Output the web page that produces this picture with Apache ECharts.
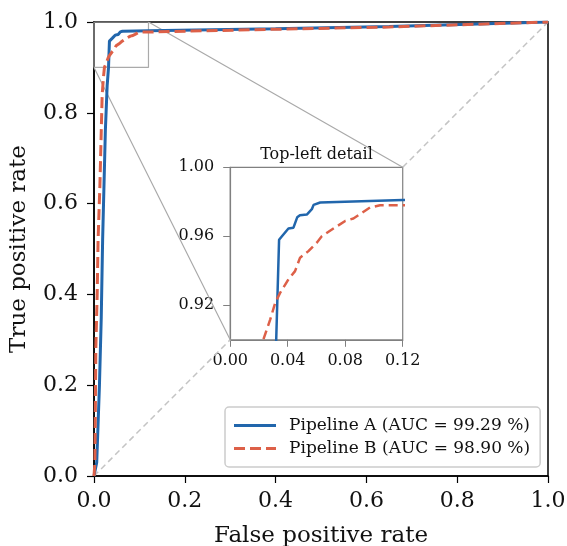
<!doctype html>
<html>
<head>
    <meta charset="utf-8">
    <title>roc-inset</title>
    <script src="https://cdn.jsdelivr.net/npm/echarts@6/dist/echarts.min.js"></script>
    <style>
        html,body{margin:0;padding:0;background:#fff;}
        #ID-ChartRoc{width:567px;height:546px;}
    </style>
</head>
<body>
    <div id="ID-ChartRoc"></div>
    <script>
        /*Data*/
        //Pipeline A
        var fprA=[0,0.006,0.012,0.016,0.019,0.025,0.029,0.032,0.034,0.036,0.0405,0.044,0.0466,0.0485,0.0533,0.0568,0.058,0.0626,0.12,0.40,0.65,1.0];
        var tprA=[0,0.03,0.20,0.35,0.52,0.76,0.86,0.90,0.958,0.960,0.9645,0.965,0.971,0.9722,0.9726,0.9757,0.9782,0.9796,0.981,0.985,0.990,1.0];
        //Pipeline B
        var fprB=[0,0.002,0.003,0.004,0.007,0.009,0.013,0.016,0.018,0.021,0.023,0.0278,0.0313,0.0347,0.0405,0.0451,0.0486,0.0544,0.0602,0.0637,0.0718,0.080,0.0857,0.0903,0.0973,0.1042,0.12,0.40,0.65,1.0];
        var tprB=[0,0.03,0.15,0.28,0.40,0.52,0.64,0.76,0.84,0.88,0.90,0.9117,0.9214,0.9272,0.935,0.9398,0.9476,0.9514,0.9563,0.960,0.9645,0.9689,0.9703,0.9728,0.9767,0.978,0.978,0.984,0.989,1.0];
        var seriesNames=["Pipeline A (AUC = 99.29 %)","Pipeline B (AUC = 98.90 %)"];
        //zoomed region (fpr, tpr)
        var zoomX=[0,0.12];
        var zoomY=[0.90,1.00];
        var insetYTicks=[0.92,0.96,1.00];

        /*Layout*/
        var font="DejaVu Serif";
        var colorA="#2166ac", colorB="#dd6048", grey="#aaaaaa";
        var mainBox={left:94,top:22,size:454};
        var insetLo=0.30, insetHi=0.68;   // inset corners in main axes fraction
        var insetBox={
            left:mainBox.left+insetLo*mainBox.size,
            top:mainBox.top+(1-insetHi)*mainBox.size,
            size:(insetHi-insetLo)*mainBox.size
        };
        //legend handles: solid bar / dashed bar
        var iconSolid="path://M0,0h42v3h-42z";
        var iconDashed="path://M0,0h11v3h-11z M16,0h11v3h-11z M32,0h10v3h-10z";

        function pairs(xs,ys){
            return xs.map(function(x,i){return [x,ys[i]];});
        }

        var chart=echarts.init(document.getElementById("ID-ChartRoc"));
        var option={
            animation:false,
            backgroundColor:"#fff",
            textStyle:{fontFamily:font},
            title:{
                text:"Top-left detail",
                left:insetBox.left+insetBox.size/2,
                textAlign:"center",
                top:insetBox.top-20,
                padding:0,
                textStyle:{fontFamily:font,fontSize:16,fontWeight:"normal",color:"#111"}
            },
            legend:{
                orient:"vertical",
                left:225,
                top:407,
                padding:[10,10,10,9],
                itemWidth:42,
                itemHeight:3,
                itemGap:6,
                backgroundColor:"#fff",
                borderColor:"#cccccc",
                borderWidth:1.5,
                borderRadius:4,
                data:[{name:seriesNames[0],icon:iconSolid},{name:seriesNames[1],icon:iconDashed}],
                textStyle:{fontFamily:font,fontSize:17,color:"#111",padding:[0,0,0,8]}
            },
            grid:[
                {left:mainBox.left,top:mainBox.top,width:mainBox.size,height:mainBox.size,
                    outerBoundsMode:"none",containLabel:false,
                    show:true,borderColor:"#000",borderWidth:1.5,backgroundColor:"transparent"},
                {left:insetBox.left,top:insetBox.top,width:insetBox.size,height:insetBox.size,
                    outerBoundsMode:"none",containLabel:false,
                    show:true,borderColor:"#808080",borderWidth:1.2,backgroundColor:"#fff"}
            ],
            xAxis:[
                {type:"value",gridIndex:0,min:0,max:1,interval:0.2,
                    name:"False positive rate",nameLocation:"middle",nameGap:49,
                    nameTextStyle:{fontFamily:font,fontSize:23,color:"#111"},
                    axisLine:{lineStyle:{color:"#000",width:1.5}},
                    axisTick:{length:7,lineStyle:{color:"#000",width:1.2}},
                    axisLabel:{margin:14,fontFamily:font,fontSize:22,color:"#111",
                        formatter:function(v){return v.toFixed(1);}},
                    splitLine:{show:false}},
                {type:"value",gridIndex:1,min:zoomX[0],max:zoomX[1],interval:0.04,
                    axisLine:{lineStyle:{color:"#808080",width:1.2}},
                    axisTick:{length:7,lineStyle:{color:"#808080",width:1}},
                    axisLabel:{margin:13,fontFamily:font,fontSize:16,color:"#111",
                        formatter:function(v){return v.toFixed(2);}},
                    splitLine:{show:false}}
            ],
            yAxis:[
                {type:"value",gridIndex:0,min:0,max:1,interval:0.2,
                    name:"True positive rate",nameLocation:"middle",nameGap:63,nameRotate:90,
                    nameTextStyle:{fontFamily:font,fontSize:23,color:"#111"},
                    axisLine:{lineStyle:{color:"#000",width:1.5}},
                    axisTick:{length:7,lineStyle:{color:"#000",width:1.2}},
                    axisLabel:{margin:16,fontFamily:font,fontSize:22,color:"#111",
                        formatter:function(v){return v.toFixed(1);}},
                    splitLine:{show:false}},
                {type:"value",gridIndex:1,min:zoomY[0],max:zoomY[1],
                    axisLine:{lineStyle:{color:"#808080",width:1.2}},
                    axisTick:{length:7,customValues:insetYTicks,lineStyle:{color:"#808080",width:1}},
                    axisLabel:{margin:16,fontFamily:font,fontSize:16,color:"#111",customValues:insetYTicks,
                        formatter:function(v){return v.toFixed(2);}},
                    splitLine:{show:false}}
            ],
            series:[
                //chance diagonal, broken where the inset sits
                {type:"line",xAxisIndex:0,yAxisIndex:0,symbol:"none",silent:true,z:1,
                    lineStyle:{color:"#c4c4c4",width:1.5,type:[6,4]},
                    data:[[0,0],[insetLo,insetLo],"-",[insetHi,insetHi],[1,1]]},
                //zoom rectangle
                {type:"line",xAxisIndex:0,yAxisIndex:0,symbol:"none",silent:true,z:1,
                    lineStyle:{color:grey,width:1.2},
                    data:[[zoomX[0],zoomY[0]],[zoomX[1],zoomY[0]],[zoomX[1],zoomY[1]],[zoomX[0],zoomY[1]],[zoomX[0],zoomY[0]]]},
                //connectors to inset corners
                {type:"line",xAxisIndex:0,yAxisIndex:0,symbol:"none",silent:true,z:1,
                    lineStyle:{color:grey,width:1.2},
                    data:[[zoomX[1],zoomY[1]],[insetHi,insetHi],"-",[zoomX[0],zoomY[0]],[insetLo,insetLo]]},
                {name:seriesNames[0],type:"line",xAxisIndex:0,yAxisIndex:0,symbol:"none",z:3,
                    itemStyle:{color:colorA},
                    lineStyle:{color:colorA,width:3},
                    data:pairs(fprA,tprA)},
                {name:seriesNames[1],type:"line",xAxisIndex:0,yAxisIndex:0,symbol:"none",z:4,
                    itemStyle:{color:colorB},
                    lineStyle:{color:colorB,width:3,type:[11,5]},
                    data:pairs(fprB,tprB)},
                {type:"line",xAxisIndex:1,yAxisIndex:1,symbol:"none",z:5,clip:true,
                    lineStyle:{color:colorA,width:2.5},
                    data:pairs(fprA,tprA)},
                {type:"line",xAxisIndex:1,yAxisIndex:1,symbol:"none",z:6,clip:true,
                    lineStyle:{color:colorB,width:2.5,type:[9,5]},
                    data:pairs(fprB,tprB)}
            ]
        };
        chart.setOption(option);
    </script>
</body>
</html>
